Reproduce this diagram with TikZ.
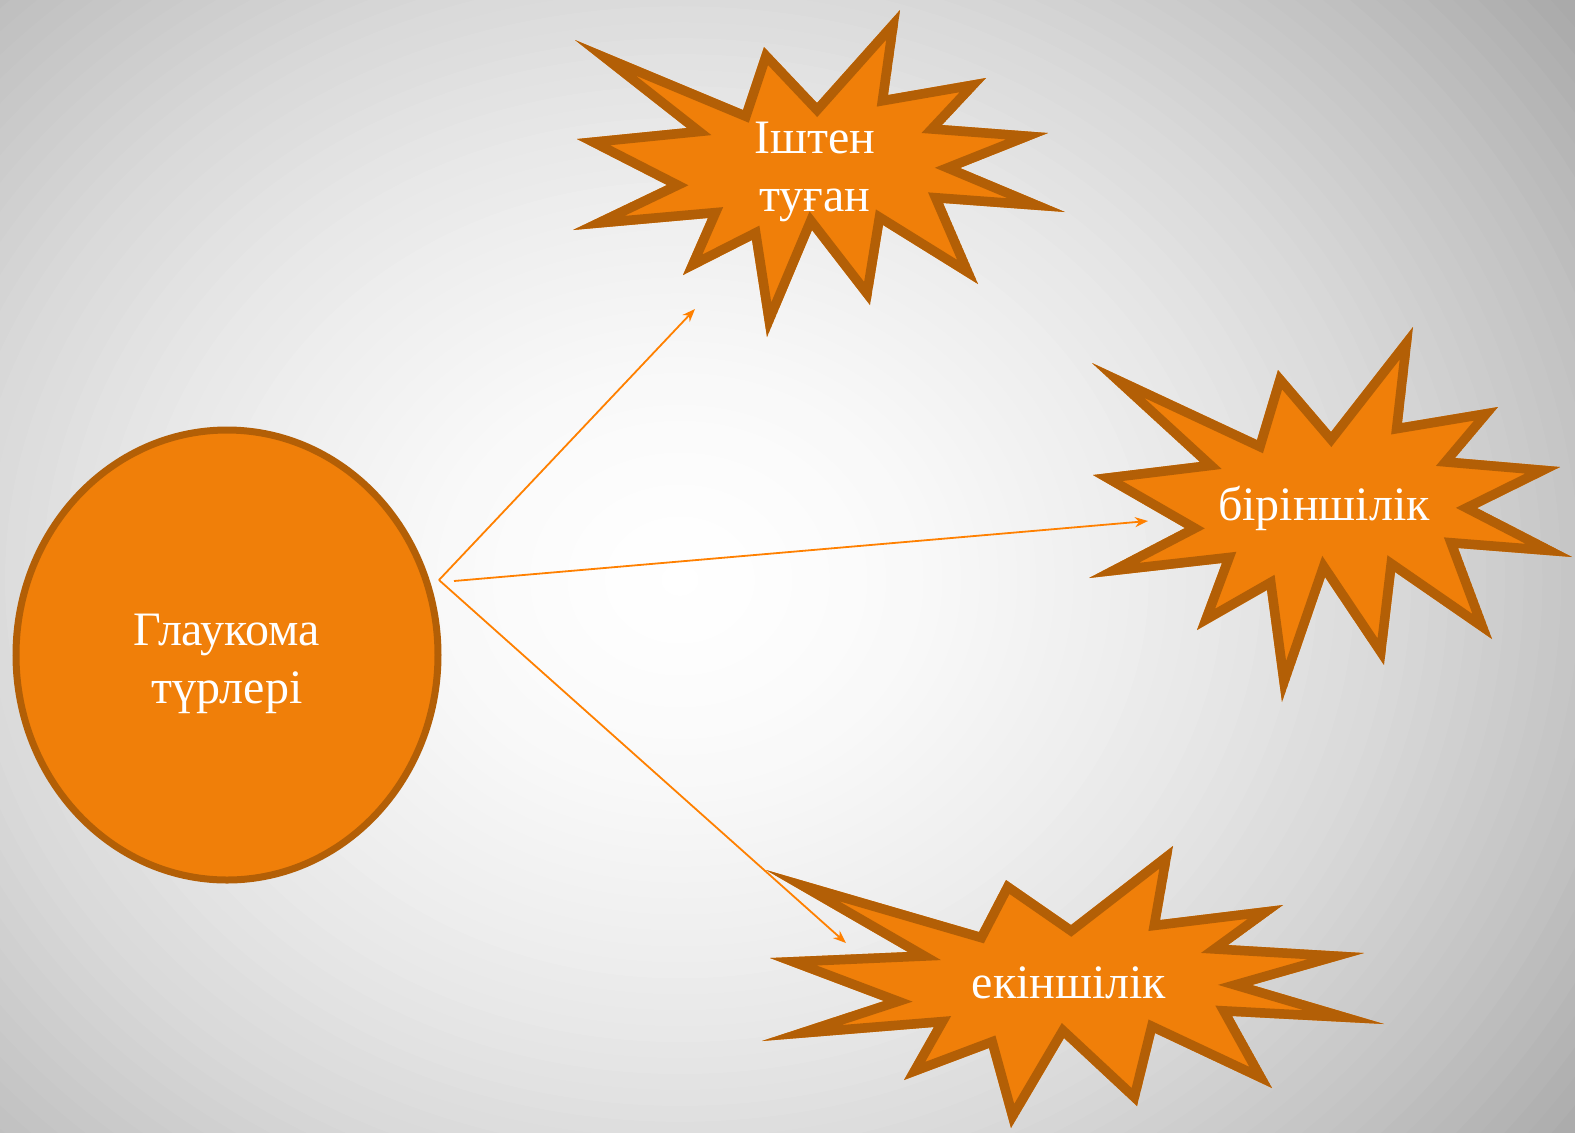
\documentclass[tikz,border=0pt]{standalone}
\usepackage{fontspec}
\setmainfont{Liberation Serif}
\usetikzlibrary{arrows.meta,shapes.geometric}
\definecolor{fillor}{HTML}{F07F09}
\definecolor{edgeor}{HTML}{B35F06}
\definecolor{arrowor}{HTML}{FF8000}
\newcommand{\starApath}{(575,40) -- (743,110) -- (764,47) -- (817,103) -- (900,10) -- (888,95)
  -- (986,78) -- (942,125) -- (1048,133) -- (960,168) -- (1065,212) -- (943,203)
  -- (978,284) -- (883,225) -- (870,305) -- (812,230) -- (767,337) -- (752,240)
  -- (683,275) -- (708,218) -- (573,230) -- (667,185) -- (577,139) -- (687,128) -- cycle}
\newcommand{\starBpath}{(1092,363) -- (1257,440) -- (1278,370) -- (1331,432) -- (1413,327) -- (1402,423)
  -- (1498,407) -- (1455,458) -- (1560,467) -- (1477,508) -- (1572,557) -- (1458,548)
  -- (1492,639) -- (1395,572) -- (1384,665) -- (1325,577) -- (1282,702) -- (1267,590)
  -- (1197,630) -- (1222,563) -- (1089,578) -- (1185,528) -- (1093,475) -- (1200,462) -- cycle}
\newcommand{\starCpath}{(766,870) -- (979,932) -- (1006,880) -- (1071,925) -- (1173,846) -- (1160,920)
  -- (1283,905) -- (1228,945) -- (1364,953) -- (1252,985) -- (1384,1024) -- (1232,1016)
  -- (1272,1088) -- (1155,1033) -- (1137,1106) -- (1064,1038) -- (1011,1128) -- (989,1048)
  -- (904,1080) -- (934,1027) -- (762,1041) -- (884,1001) -- (770,958) -- (908,952) -- cycle}
\tikzset{
  burstfill/.style={fill=fillor},
  burstedge/.style={draw=edgeor, line width=9.5pt, line join=miter, miter limit=30},
  label/.style={text=white, font=\fontsize{24}{28.8}\selectfont, align=center, inner sep=0pt},
  conn/.style={draw=arrowor, line width=0.9pt, -{Stealth[length=6.5pt,width=5pt]}},
}
\begin{document}
\begin{tikzpicture}[x=0.5pt,y=-0.5pt]
\useasboundingbox (0,0) rectangle (1575,1132);
\begin{scope}
\clip (0,0) rectangle (1575,1132);
\fill[black!35] (0,0) rectangle (1575,1132);
\foreach \i in {0,...,79} {
  \pgfmathsetmacro\dd{1.5*(1-\i/80)}
  \pgfmathsetmacro\gg{max(0,1-0.05*\dd-0.22*\dd*\dd)}
  \definecolor{bgtmp}{gray}{\gg}
  \fill[bgtmp] (680,580) ellipse [x radius={500*\dd pt}, y radius={425*\dd pt}];
}
\end{scope}

% circle
\node[ellipse, fill=fillor, draw=edgeor, line width=3.5pt, inner sep=0pt,
      minimum width=211pt, minimum height=225pt] (glau) at (227,655) {};
\node[label] (glautext) at (227,664) {Глаукома\\түрлері};

% star 1
\begin{scope}
\clip \starApath;
\fill[burstfill] \starApath;
\draw[burstedge] \starApath;
\end{scope}
\node[label] (s1) at (815,172) {Іштен\\туған};

% star 2
\begin{scope}
\clip \starBpath;
\fill[burstfill] \starBpath;
\draw[burstedge] \starBpath;
\end{scope}
\node[label] (s2) at (1324,508) {біріншілік};

% star 3
\begin{scope}
\clip \starCpath;
\fill[burstfill] \starCpath;
\draw[burstedge] \starCpath;
\end{scope}
\node[label] (s3) at (1069,983) {екіншілік};

% connectors
\coordinate (o) at (439,580);
\coordinate (o2) at (454,581);
\coordinate (t1) at (695,309);
\coordinate (t2) at (1148,521);
\coordinate (t3) at (846,943);
\draw[conn] (o) -- (t1);
\draw[conn] (o2) -- (t2);
\draw[conn] (o) -- (t3);
\end{tikzpicture}
\end{document}
